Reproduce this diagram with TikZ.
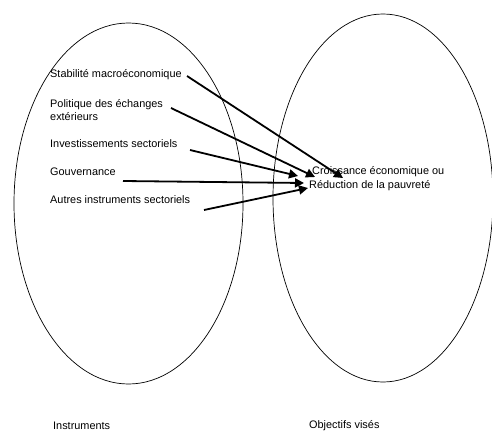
\documentclass[tikz,border=0pt]{standalone}
\usepackage{fontspec}
\setmainfont{Liberation Sans}
\usetikzlibrary{arrows.meta}
\begin{document}
\begin{tikzpicture}[x=1pt,y=-1pt,
  lbl/.style={anchor=west,inner sep=0pt,font=\fontsize{10.9}{13.5}\selectfont,align=left},
  oval/.style={draw,line width=0.7pt},
  arr/.style={line width=1.8pt,-{Triangle[length=9pt,width=9pt]}}]
\useasboundingbox (0,0) rectangle (492,431);
\draw[oval] (128.5,203.5) ellipse [x radius=114.5,y radius=180.5];
\draw[oval] (383,198) ellipse [x radius=110,y radius=184];
\node[lbl] (stab) at (50,75) {Stabilité macroéconomique};
\node[lbl] (pol) at (50,110) {Politique des échanges\\extérieurs};
\node[lbl] (inv) at (50,144) {Investissements sectoriels};
\node[lbl] (gouv) at (50,172) {Gouvernance};
\node[lbl] (autres) at (50,200) {Autres instruments sectoriels};
\node[lbl] (obj) at (309,178.5) {\hspace*{3pt}Croissance économique ou\\Réduction de la pauvreté};
\node[lbl] (instr) at (53,426) {Instruments};
\node[lbl] (vises) at (309,426) {Objectifs visés};
\coordinate (s1) at (187,76);   \coordinate (e1) at (343,178);
\coordinate (s2) at (171,108);  \coordinate (e2) at (315,177);
\coordinate (s3) at (190,150);  \coordinate (e3) at (298,176);
\coordinate (s4) at (123,181);  \coordinate (e4) at (304,183);
\coordinate (s5) at (204,210);  \coordinate (e5) at (308,188);
\draw[arr] (s1) -- (e1);
\draw[arr] (s2) -- (e2);
\draw[arr] (s3) -- (e3);
\draw[arr] (s4) -- (e4);
\draw[arr] (s5) -- (e5);
\end{tikzpicture}
\end{document}
